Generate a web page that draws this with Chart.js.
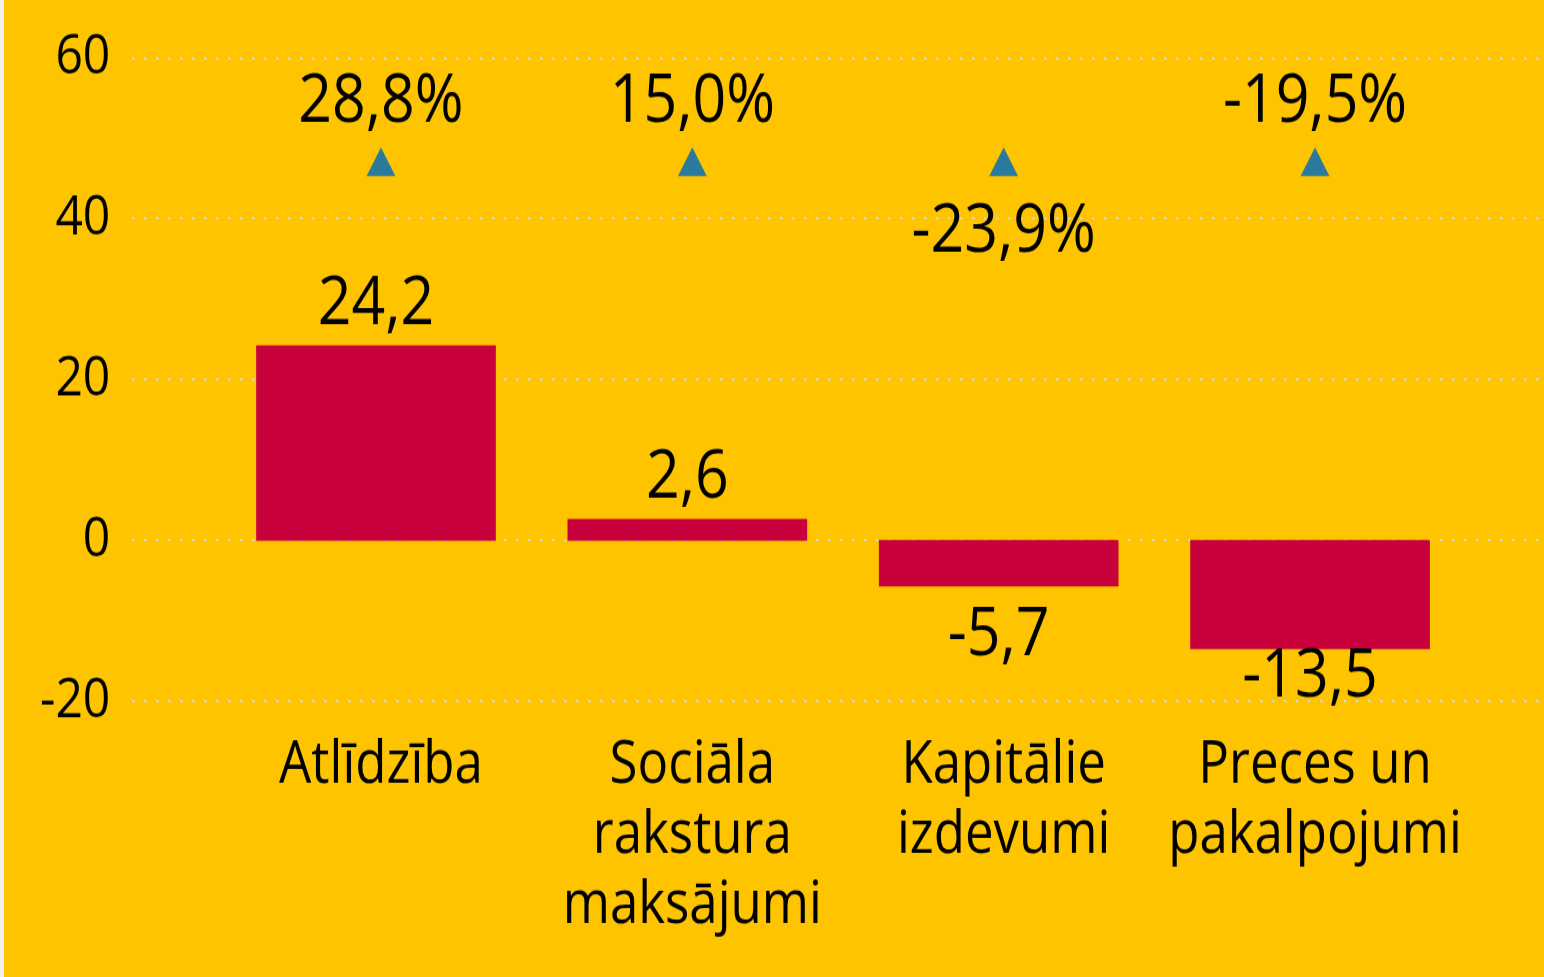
<!DOCTYPE html>
<html>
<head>
<meta charset="utf-8">
<script src="https://cdn.jsdelivr.net/npm/chart.js@4.4.1/dist/chart.umd.min.js"></script>
<style>
  html, body { margin: 0; padding: 0; background: #FFC400; overflow: hidden; }
  #wrap { position: relative; width: 1544px; height: 977px; }
  #c { background: #FFC400; }
  #edge { position: absolute; left: 0; top: 0; width: 4px; height: 977px; background: #F0F0F0; }
</style>
</head>
<body>
<div id="wrap">
  <!-- drawn at 850px high, shown stretched to 977px like the reference -->
  <canvas id="c" width="1544" height="850" style="display:block;width:1544px;height:977px"></canvas>
  <div id="edge"></div>
</div>
<script>
// --- DATA ---
const categories = ['Atlīdzība', ['Sociāla', 'rakstura', 'maksājumi'], ['Kapitālie', 'izdevumi'], ['Preces un', 'pakalpojumi']];
const changeValues = [24.2, 2.6, -5.7, -13.5];
const changePercent = [28.8, 15.0, -23.9, -19.5];
const markerLevel = [46.5, 46.5, 46.5, 46.5];
const yMin = -20, yMax = 60, yStep = 20;

// --- HELPERS ---
const fmt = v => v.toFixed(1).replace('.', ',');
const pctBelow = [2];      // which percent labels sit under the marker
const barShift = 0.016;    // bars sit a little left of the category centre

const dottedGrid = {
  id: 'dottedGrid',
  beforeDatasetsDraw(chart) {
    const { ctx, scales: { y } } = chart;
    ctx.save();
    ctx.strokeStyle = '#D6D6D6';
    ctx.lineWidth = 1.8;
    ctx.setLineDash([2.5, 9.5]);
    y.ticks.forEach(t => {
      const py = Math.round(y.getPixelForValue(t.value));
      ctx.beginPath();
      ctx.moveTo(132, py);
      ctx.lineTo(chart.width, py);
      ctx.stroke();
    });
    ctx.restore();
  }
};

const valueLabels = {
  id: 'valueLabels',
  afterDatasetsDraw(chart) {
    const { ctx, chartArea } = chart;
    const bars = chart.getDatasetMeta(0).data;
    const marks = chart.getDatasetMeta(1).data;
    ctx.save();
    ctx.fillStyle = '#000';
    ctx.textAlign = 'center';
    ctx.textBaseline = 'alphabetic';
    ctx.font = '59px "Open Sans"';
    bars.forEach((bar, i) => {
      const v = changeValues[i];
      const y = v >= 0 ? bar.y - 19 : Math.min(bar.y + 60, chartArea.bottom - 3.5);
      ctx.fillText(fmt(v), bar.x, y);
    });
    marks.forEach((pt, i) => {
      const y = pctBelow.includes(i) ? pt.y + 74 : pt.y - 38.5;
      ctx.fillText(fmt(changePercent[i]) + '%', pt.x, y);
    });
    ctx.restore();
  }
};

// --- CHART ---
new Chart(document.getElementById('c'), {
  type: 'bar',
  data: {
    labels: categories,
    datasets: [
      {
        label: 'Izmaiņas',
        data: changeValues.map((v, i) => ({ x: i, y: v })),
        xAxisID: 'xb',
        backgroundColor: '#C8003C',
        borderWidth: 0,
        barThickness: 239,
        grouped: false,
        order: 2
      },
      {
        label: 'Izmaiņas, %',
        type: 'line',
        data: markerLevel,
        xAxisID: 'x',
        showLine: false,
        pointStyle: 'triangle',
        pointRadius: 16.7,
        pointHoverRadius: 16.7,
        pointBackgroundColor: '#2B7A9B',
        pointBorderWidth: 0,
        order: 1
      }
    ]
  },
  options: {
    responsive: false,
    devicePixelRatio: 1,
    animation: false,
    layout: { padding: { top: 50.5, right: 73.3, left: 0, bottom: 0 } },
    plugins: { legend: { display: false }, tooltip: { enabled: false } },
    scales: {
      x: {
        type: 'category',
        offset: true,
        grid: { display: false, drawTicks: false },
        border: { display: false },
        ticks: {
          color: '#000',
          padding: 26,
          maxRotation: 0,
          autoSkip: false,
          font: { family: 'Open Sans', size: 51, lineHeight: '61px' }
        },
        afterFit: s => { s.height = 240.1; }
      },
      xb: {
        type: 'linear',
        position: 'bottom',
        offset: false,
        min: -0.5 + barShift,
        max: 3.5 + barShift,
        grid: { display: false, drawTicks: false },
        border: { display: false },
        ticks: { display: false, stepSize: 1 },
        afterFit: s => { s.height = 0; }
      },
      y: {
        min: yMin,
        max: yMax,
        grid: { display: false, drawTicks: false },
        border: { display: false },
        ticks: {
          stepSize: yStep,
          color: '#000',
          padding: 115,
          font: { family: 'Open Sans', size: 48 }
        },
        afterFit: s => { s.width = 225.3; s.paddingTop = 30; s.paddingBottom = 30; }
      }
    }
  },
  plugins: [dottedGrid, valueLabels]
});
</script>
</body>
</html>
